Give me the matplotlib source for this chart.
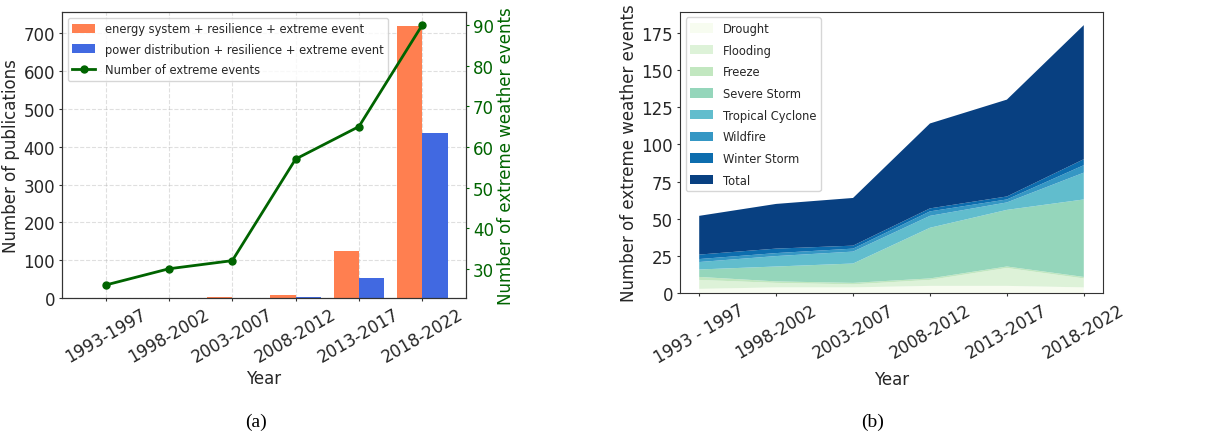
import numpy as np
import matplotlib
matplotlib.use("Agg")
import matplotlib.pyplot as plt

# (a) publications and number of events
periods_a = ["1993-1997", "1998-2002", "2003-2007", "2008-2012", "2013-2017", "2018-2022"]
energy_pubs = [0, 0, 4, 9, 125, 720]
power_pubs = [0, 0, 1, 4, 52, 435]
n_events = [26, 30, 32, 57, 65, 90]

# (b) events by type
periods_b = ["1993 - 1997", "1998-2002", "2003-2007", "2008-2012", "2013-2017", "2018-2022"]
drought = [3, 4, 4, 5, 5, 4]
flooding = [6, 3, 2, 4, 12, 6]
freeze = [2, 1, 1, 1, 1, 1]
severe_storm = [5, 10, 13, 34, 38, 52]
tropical_cyclone = [5, 7, 8, 8, 5, 18]
wildfire = [2, 2, 2, 3, 2, 5]
winter_storm = [3, 3, 2, 2, 2, 4]
event_types = ["Drought", "Flooding", "Freeze", "Severe Storm", "Tropical Cyclone",
               "Wildfire", "Winter Storm", "Total"]

plt.rcParams["xtick.major.size"] = 2.5
plt.rcParams["ytick.major.size"] = 2.5
plt.rcParams["xtick.major.pad"] = 2.5
plt.rcParams["ytick.major.pad"] = 2.5
plt.rcParams["axes.labelpad"] = 2.5
plt.rcParams["axes.edgecolor"] = "#333333"
plt.rcParams["text.color"] = "#262626"
plt.rcParams["axes.labelcolor"] = "#262626"
plt.rcParams["xtick.color"] = "#333333"
plt.rcParams["ytick.color"] = "#333333"
plt.rcParams["xtick.labelcolor"] = "#262626"
plt.rcParams["ytick.labelcolor"] = "#262626"

fig = plt.figure(figsize=(12.08, 4.35), dpi=100)

# ---- left panel
ax1 = fig.add_axes([0.0513, 0.3126, 0.3344, 0.6575])
x = np.arange(len(periods_a))
w = 0.4
b1 = ax1.bar(x - w / 2, energy_pubs, w, color="coral",
             label="energy system + resilience + extreme event")
b2 = ax1.bar(x + w / 2, power_pubs, w, color="royalblue",
             label="power distribution + resilience + extreme event")
ax1.set_xticks(x)
ax1.set_xticklabels(periods_a, rotation=30, fontsize=12)
ax1.tick_params(axis="y", labelsize=12)
ax1.set_xlabel("Year", fontsize=12)
ax1.set_ylabel("Number of publications", fontsize=12)
ax1.grid(True, linestyle="--", alpha=0.4)
ax1.set_axisbelow(True)

ax2 = ax1.twinx()
ln, = ax2.plot(x, n_events, color="darkgreen", marker="o", markersize=5,
               linewidth=2, label="Number of extreme events")
ax2.set_ylabel("Number of extreme weather events", color="darkgreen", fontsize=12)
ax2.tick_params(axis="y", colors="darkgreen", labelcolor="darkgreen", labelsize=12)
ax2.spines["right"].set_color("#333333")

ax1.legend(handles=[b1, b2, ln], loc="upper left", fontsize=8.3,
           labelspacing=0.65, handleheight=0.85)

# ---- right panel
ax3 = fig.add_axes([0.5629, 0.3234, 0.3502, 0.6474])
parts = [drought, flooding, freeze, severe_storm, tropical_cyclone, wildfire, winter_storm]
total = list(np.sum(parts, axis=0))
colors = plt.cm.GnBu(np.linspace(0, 1, 8))
xb = np.arange(len(periods_b))
ax3.stackplot(xb, *parts, total, labels=event_types, colors=colors)
ax3.set_xticks(xb)
ax3.set_xticklabels(periods_b, rotation=30, fontsize=12)
ax3.tick_params(axis="y", labelsize=12)
ax3.set_xlabel("Year", fontsize=12)
ax3.set_ylabel("Number of extreme weather events", fontsize=12)
ax3.legend(loc="upper left", fontsize=8.3, labelspacing=0.75, handleheight=0.85)

fig.text(0.212, 0.028, "(a)", fontsize=14, family="Liberation Serif",
         ha="center", va="center", color="black")
fig.text(0.722, 0.028, "(b)", fontsize=14, family="Liberation Serif",
         ha="center", va="center", color="black")

fig.savefig("out.png", dpi=100)
